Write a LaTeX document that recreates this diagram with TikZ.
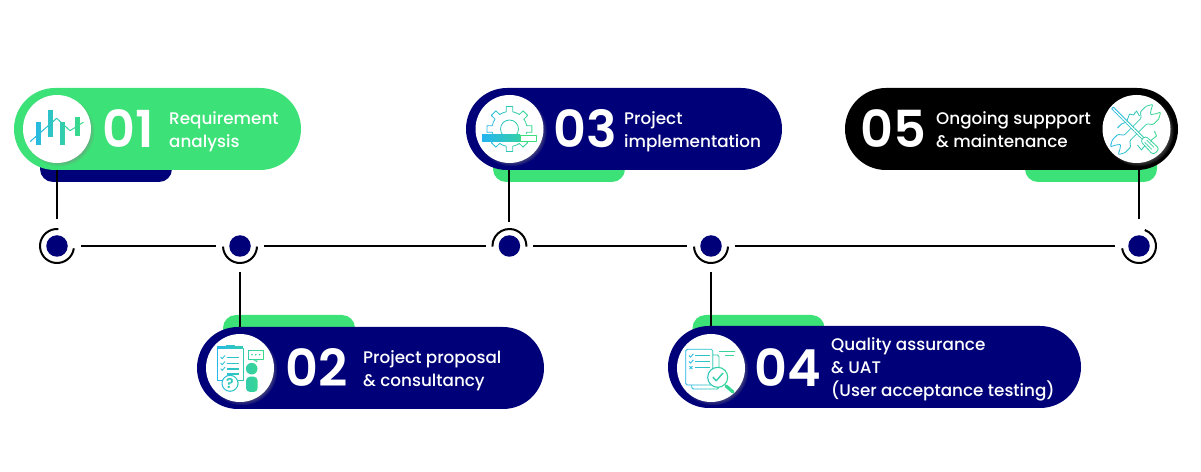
\documentclass[tikz,border=0pt]{standalone}
\usepackage{fontspec}
\usetikzlibrary{shapes.misc,shadows,fadings}
\setmainfont{Poppins}
\newfontfamily\labelfont{Poppins Medium}
\newfontfamily\numfont{Poppins SemiBold}
\definecolor{navy}{HTML}{000078}
\definecolor{mint}{HTML}{3CE177}
\definecolor{iconblue}{HTML}{25B4F0}
\definecolor{icongreen}{HTML}{3CDE80}
\tikzset{
	pill/.style = {rounded rectangle, minimum height=82pt, inner sep=0pt},
	tab/.style = {rectangle, rounded corners=13pt, minimum width=132pt, minimum height=40pt},
	badge/.style = {circle, fill=white, minimum size=68pt, inner sep=0pt, circular drop shadow={shadow xshift=2pt, shadow yshift=-2pt, shadow scale=1.04, opacity=.55}},
	dot/.style = {circle, fill=navy, minimum size=21.5pt, inner sep=0pt, outer sep=13pt},
	wire/.style = {line width=2pt},
	ring/.style = {line width=2pt},
	num/.style = {text=white, inner sep=0pt, anchor=base west, font=\numfont\fontsize{51}{51}\selectfont},
	lbl/.style = {text=white, inner sep=0pt, anchor=west, align=left, font=\labelfont\fontsize{16.8}{23}\selectfont},
	ink/.style = {line width=.8pt, line join=round}
}
% icons, y runs downwards here
\newcommand\iconone{
	\fill (-21,-7) rectangle (-16,16);
	\fill (-9.5,-19) rectangle (-4.5,8);
	\fill (3,-7) rectangle (8,16);
	\fill (18,-12) rectangle (23,7);
	\draw[ink, line width=1pt] (-27,12.7) -- (-0.3,-10.7) -- (13,1.7) -- (26.3,-6.7);
}
\newcommand\icontwo{
	\draw[ink] (-22.7,-20) rectangle (3.3,12);
	\fill (-22.7,-22) rectangle (3.3,-19.5);
	\fill (-14,-23) rectangle (-5.5,-21);
	\draw[ink, line width=1.1pt] (-13.3,-10.7) -- (-0.7,-10.7);
	\draw[ink, line width=1.1pt] (-13.3,-4.7) -- (-0.7,-4.7);
	\draw[ink, line width=1.1pt] (-13.3,1) -- (-0.7,1);
	\draw[ink, line width=1.1pt] (-13.3,6) -- (-0.7,6);
	\draw[ink] (-19.3,-11) -- (-17.8,-9.3) -- (-15,-12.5);
	\draw[ink] (-19.3,-5) -- (-17.8,-3.3) -- (-15,-6.5);
	\draw[ink] (-19.3,0.7) -- (-17.8,2.4) -- (-15,-0.8);
	\draw[ink, fill=white, line width=1pt] (-10,15.3) circle (8pt);
	\draw[ink] (8.3,-18) rectangle (23.3,-8.7);
	\draw[ink] (13,-8.7) -- (17,-6.2) -- (17,-8.7);
	\fill (12,-13.3) circle (.9pt);
	\fill (15.8,-13.3) circle (.9pt);
	\fill (19.6,-13.3) circle (.9pt);
	\fill (11.7,0.7) circle (5.8pt);
	\fill[rounded corners=4pt] (6,24) -- (6,8.7) -- (17.7,8.7) -- (17.7,24) -- cycle;
}
\newcommand\iconthree{
	\foreach \a in {0,45,...,315}
		\draw[ink] (\a-22.5:17.5) -- (\a-11:17.5) -- (\a-8:22.7) -- (\a+8:22.7) -- (\a+11:17.5) -- (\a+22.5:17.5);
	\draw[ink] (0,0) circle (9pt);
}
\newcommand\iconfour{
	\draw[ink, rounded corners=1.5pt] (-19.3,17) -- (-19.3,21) -- (8,21) -- (8,-13) -- (1.7,-13);
	\draw[ink, rounded corners=1.5pt] (-25.3,-18.7) rectangle (1.7,17);
	\draw[ink, line width=1.3pt] (-16,-12.3) -- (-1,-12.3);
	\draw[ink, line width=1.3pt] (-16,-6.3) -- (-1,-6.3);
	\draw[ink, line width=1.3pt] (-16,-0.3) -- (-1,-0.3);
	\draw[ink] (-22,-12.5) -- (-20.4,-10.8) -- (-17.7,-14.2);
	\draw[ink] (-22,-6.5) -- (-20.4,-4.8) -- (-17.7,-8.2);
	\draw[ink] (-21.5,-1.7) -- (-18.5,1.1) (-21.5,1.1) -- (-18.5,-1.7);
	\draw[ink, line width=1.1pt] (8.3,-16.3) -- (24,-16.3);
	\draw[ink, line width=1.1pt] (14,-12.3) -- (23,-12.3);
	\draw[ink, fill=white, line width=1.1pt] (6.7,9.3) circle (10pt);
	\draw[ink, line width=1.4pt] (1.8,9) -- (5.2,12.8) -- (12,5);
	\draw[line width=3.2pt, line cap=round] (15,18) -- (22,24);
}
\newcommand\iconfive{
	\draw[ink] (-19,-1) -- (-15,-5) -- (-10,-7) -- (-7,-15) -- (-3,-14) -- (0,-18) -- (3,-13);
	\draw[ink] (1,16) -- (5,21) -- (8,17) -- (13,18) -- (15,11) -- (20,7) -- (18,2);
	% wrench
	\begin{scope}[shift={(-1,.5)}, rotate=45]
		\draw[ink, fill=white, rounded corners=1pt] (-12,4) -- (12,4) -- (16,9) -- (24,9) -- (30,5.5) -- (25,3) -- (21,0) -- (25,-3) -- (30,-5.5) -- (24,-9) -- (16,-9) -- (12,-4) -- (-12,-4) -- (-16,-9) -- (-24,-9) -- (-30,-5.5) -- (-25,-3) -- (-21,0) -- (-25,3) -- (-30,5.5) -- (-24,9) -- (-16,9) -- cycle;
	\end{scope}
	% screwdriver
	\begin{scope}[shift={(-24,-21)}, rotate=-45]
		\draw[ink, fill=white] (0,-1.2) -- (43,-1.2) -- (43,1.2) -- (0,1.2) -- cycle;
		\draw[ink, fill=white, rounded corners=3pt] (43,-3.6) -- (62,-4.4) -- (62,4.4) -- (43,3.6) -- cycle;
		\draw[ink] (47,-1.5) -- (57,-1.5) (47,1.5) -- (57,1.5);
	\end{scope}
}
% one icon in vertical strips, blue to green
\newcommand\gradicon[2]{
	\foreach \s in {0,...,14}{
		\pgfmathsetmacro\m{\s*100/14}
		\colorlet{inkcol}{icongreen!\m!iconblue}
		\begin{scope}[shift={(#1.center)}, x=1pt, y=-1pt, color=inkcol]
			\clip ({-30+\s*4},-34) rectangle ({-30+\s*4+4.4},34);
			#2
		\end{scope}
	}
}
\begin{document}
\begin{tikzpicture}[x=1pt, y=1pt]
	\useasboundingbox (0,0) rectangle (1201,471);
	% tabs
	\node[tab, fill=navy] (tab1) at (106,309) {};
	\node[tab, fill=mint] (tab2) at (289,136) {};
	\node[tab, fill=mint] (tab3) at (559,309) {};
	\node[tab, fill=mint] (tab4) at (758.5,136) {};
	\node[tab, fill=mint] (tab5) at (1091,309) {};
	% pills
	\node[pill, fill=mint, minimum width=287pt] (pill1) at (157.5,342) {};
	\node[pill, fill=navy, minimum width=347pt] (pill2) at (370.5,103) {};
	\node[pill, fill=navy, minimum width=316pt] (pill3) at (624,342) {};
	\node[pill, fill=navy, minimum width=413pt] (pill4) at (874.5,104) {};
	\node[pill, fill=black, minimum width=333pt] (pill5) at (1011.5,342) {};
	% dots
	\node[dot] (dot1) at (57,225) {};
	\node[dot] (dot2) at (240,225) {};
	\node[dot] (dot3) at (509.4,225) {};
	\node[dot] (dot4) at (711,225) {};
	\node[dot] (dot5) at (1139,225) {};
	% rings
	\draw[ring] (dot1.center) ++(85:17pt) arc[start angle=85, end angle=352, radius=17pt];
	\draw[ring] (dot2.center) ++(182:17pt) arc[start angle=182, end angle=358, radius=17pt];
	\draw[ring] (dot3.center) ++(-2:17pt) arc[start angle=-2, end angle=182, radius=17pt];
	\draw[ring] (dot4.center) ++(182:17pt) arc[start angle=182, end angle=358, radius=17pt];
	\draw[ring] (dot5.center) ++(188:17pt) arc[start angle=188, end angle=430, radius=17pt];
	% line
	\draw[wire] (dot1) -- (dot2);
	\draw[wire] (dot2) -- (dot3);
	\draw[wire] (dot3) -- (dot4);
	\draw[wire] (dot4) -- (dot5);
	% stems
	\draw[wire, shorten <=3pt] (dot1) -- (dot1 |- pill1.south);
	\draw[wire, shorten <=2.5pt] (dot2) -- (dot2 |- pill2.north);
	\draw[wire] (dot3) -- (dot3 |- pill3.south);
	\draw[wire, shorten <=2.5pt] (dot4) -- (dot4 |- pill4.north);
	\draw[wire, shorten <=3pt] (dot5) -- (dot5 |- pill5.south);
	% badges
	\node[badge] (badge1) at (57,342) {};
	\node[badge] (badge2) at (240,103) {};
	\node[badge] (badge3) at (509.5,342) {};
	\node[badge] (badge4) at (711,103) {};
	\node[badge] (badge5) at (1136.5,342) {};
	% icons
	\gradicon{badge1}{\iconone}
	\gradicon{badge2}{\icontwo}
	\gradicon{badge3}{\iconthree}
	\gradicon{badge4}{\iconfour}
	\gradicon{badge5}{\iconfive}
	\fill[white] ([shift={(-28,-13.5)}]badge3.center) rectangle ([shift={(27.5,-5.2)}]badge3.center);
	\shade[left color=iconblue, right color=icongreen!65!iconblue] ([shift={(-27.5,-13)}]badge3.center) rectangle ([shift={(10.5,-5.7)}]badge3.center);
	\draw[ink, color=icongreen] ([shift={(10.5,-12.6)}]badge3.center) rectangle ([shift={(26.9,-6.1)}]badge3.center);
	\node[text=iconblue!50!icongreen, inner sep=0pt, font=\numfont\fontsize{14}{14}\selectfont] (ask) at (230,87.5) {?};
	% numbers
	\node[num] (num1) at (102,323) {01};
	\node[num] (num2) at (285,84) {02};
	\node[num] (num3) at (553,323) {03};
	\node[num] (num4) at (754,84) {04};
	\node[num] (num5) at (860,323) {05};
	% labels
	\node[lbl] (lbl1) at (169,339.1) {\strut Requirement\\analysis\strut};
	\node[lbl] (lbl2) at (363,100.8) {\strut Project proposal\\\& consultancy\strut};
	\node[lbl] (lbl3) at (624,339.1) {\strut Project\\implementation\strut};
	\node[lbl] (lbl4) at (831,101.9) {\strut Quality assurance\\\& UAT\\(User acceptance testing)\strut};
	\node[lbl] (lbl5) at (936,339.1) {\strut Ongoing suppport\\\& maintenance\strut};
\end{tikzpicture}
\end{document}
